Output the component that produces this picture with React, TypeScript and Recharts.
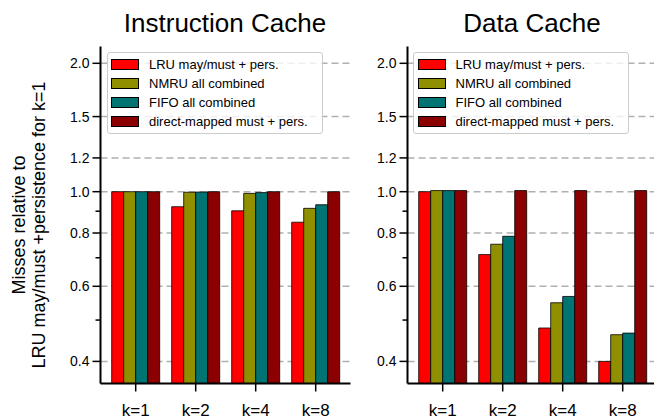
import React from "react";
import { BarChart, Bar, XAxis, YAxis, CartesianGrid, Legend } from "recharts";

const categories = ["k=1", "k=2", "k=4", "k=8"];
const seriesNames = [
  "LRU may/must + pers.",
  "NMRU all combined",
  "FIFO all combined",
  "direct-mapped must + pers.",
];
const seriesKeys = ["lru", "nmru", "fifo", "direct"];
const seriesColors = ["#ff0000", "#8f8f00", "#007373", "#8b0000"];

// Instruction cache, misses relative to LRU k=1
const icacheLru = [1.0, 0.922, 0.902, 0.848];
const icacheNmru = [1.0, 0.997, 0.991, 0.914];
const icacheFifo = [1.0, 0.998, 0.995, 0.932];
const icacheDirect = [1.0, 1.0, 1.0, 1.0];

// Data cache
const dcacheLru = [1.0, 0.712, 0.479, 0.4];
const dcacheNmru = [1.006, 0.753, 0.549, 0.462];
const dcacheFifo = [1.006, 0.786, 0.568, 0.466];
const dcacheDirect = [1.006, 1.006, 1.006, 1.006];

const majorTicks = [0.4, 0.6, 0.8, 1.0, 1.2, 1.5, 2.0];
const minorTicks = [0.5, 0.7, 0.9];
const allTicks = [...majorTicks, ...minorTicks].sort((a, b) => a - b);

const FONT = '"Liberation Sans", Arial, Helvetica, sans-serif';

const buildRows = (cols: number[][]) =>
  categories.map((k, i) => ({
    k,
    lru: cols[0][i],
    nmru: cols[1][i],
    fifo: cols[2][i],
    direct: cols[3][i],
  }));

const icacheData = buildRows([icacheLru, icacheNmru, icacheFifo, icacheDirect]);
const dcacheData = buildRows([dcacheLru, dcacheNmru, dcacheFifo, dcacheDirect]);

const YTick = (props: any) => {
  const { x, y, payload } = props;
  const major = majorTicks.includes(payload.value);
  return (
    <g>
      <line x1={x - (major ? 8 : 5)} x2={x} y1={y} y2={y} stroke="#000" strokeWidth={1.5} />
      {major && (
        <text x={x - 11} y={y} dy="0.36em" textAnchor="end" fontSize={14} fill="#000" fontFamily={FONT}>
          {payload.value.toFixed(1)}
        </text>
      )}
    </g>
  );
};

const XTick = (props: any) => {
  const { x, y, payload } = props;
  return (
    <g>
      <line x1={x} x2={x} y1={y} y2={y + 8} stroke="#000" strokeWidth={1.5} />
      <text x={x} y={y + 32} textAnchor="middle" fontSize={17} fill="#000" fontFamily={FONT}>
        {payload.value}
      </text>
    </g>
  );
};

const LegendBox = (props: any) => {
  const items = [...(props.payload || [])].sort(
    (a: any, b: any) => seriesNames.indexOf(a.value) - seriesNames.indexOf(b.value)
  );
  return (
    <div
      style={{
        boxSizing: "border-box",
        width: 216,
        height: 82,
        border: "1.5px solid #cccccc",
        borderRadius: 3,
        background: "rgba(255,255,255,0.8)",
        padding: "2px 0 0 3.5px",
        fontFamily: FONT,
      }}
    >
      {items.map((entry: any) => (
        <div key={entry.value} style={{ display: "flex", alignItems: "center", height: 19 }}>
          <span
            style={{
              boxSizing: "border-box",
              display: "inline-block",
              width: 28,
              height: 11,
              background: entry.color,
              border: "1px solid #000",
              marginRight: 10,
            }}
          />
          <span style={{ fontSize: 13, color: "#000", lineHeight: "19px" }}>{entry.value}</span>
        </div>
      ))}
    </div>
  );
};

function Panel({ data, left }: { data: any[]; left: number }) {
  return (
    <div style={{ position: "absolute", left, top: 0 }}>
      <BarChart
        width={360}
        height={419}
        data={data}
        margin={{ top: 46.5, right: 9.5, bottom: 0, left: 40.5 }}
        barGap={0}
        barSize={12}
      >
        <CartesianGrid
          vertical={false}
          horizontalValues={majorTicks}
          stroke="#b0b0b0"
          strokeWidth={1.5}
          strokeDasharray="7 4"
        />
        <XAxis
          dataKey="k"
          interval={0}
          height={35.5}
          padding={{ left: 5.2, right: 4.8 }}
          tickSize={0}
          tickMargin={0}
          tickLine={false}
          tick={<XTick />}
          axisLine={{ stroke: "#000", strokeWidth: 2 }}
        />
        <XAxis
          xAxisId="t"
          dataKey="k"
          orientation="top"
          height={0}
          tick={false}
          tickLine={false}
          axisLine={{ stroke: "#000", strokeWidth: 2 }}
        />
        <YAxis
          type="number"
          scale="log"
          domain={[0.355, 2.19]}
          allowDataOverflow
          ticks={allTicks}
          interval={0}
          width={60}
          tickSize={0}
          tickMargin={0}
          tickLine={false}
          tick={<YTick />}
          axisLine={{ stroke: "#000", strokeWidth: 2 }}
        />
        <YAxis
          yAxisId="r"
          orientation="right"
          width={0}
          tick={false}
          tickLine={false}
          axisLine={{ stroke: "#000", strokeWidth: 2 }}
        />
        <Legend
          layout="vertical"
          align="center"
          verticalAlign="middle"
          content={<LegendBox />}
          wrapperStyle={{ top: 52, left: 106.5, width: 216 }}
        />
        {seriesKeys.map((key, i) => (
          <Bar
            key={key}
            dataKey={key}
            name={seriesNames[i]}
            fill={seriesColors[i]}
            stroke="#000"
            strokeWidth={0.8}
            isAnimationActive={false}
          />
        ))}
      </BarChart>
    </div>
  );
}

export default function App() {
  return (
    <div
      style={{
        position: "fixed",
        left: 0,
        top: 0,
        width: 654,
        height: 419,
        overflow: "hidden",
        background: "#fff",
        fontFamily: FONT,
      }}
    >
      <svg width={654} height={419} style={{ position: "absolute", left: 0, top: 0 }}>
        <text x={225} y={31.5} textAnchor="middle" fontSize={26} fontFamily={FONT} fill="#000">
          Instruction Cache
        </text>
        <text x={532} y={31.5} textAnchor="middle" fontSize={26} fontFamily={FONT} fill="#000">
          Data Cache
        </text>
        <text
          transform="translate(25,225) rotate(-90)"
          textAnchor="middle"
          fontSize={18}
          fontFamily={FONT}
          fill="#000"
        >
          Misses relative to
        </text>
        <text
          transform="translate(45,225) rotate(-90)"
          textAnchor="middle"
          fontSize={18}
          fontFamily={FONT}
          fill="#000"
        >
          LRU may/must +persistence for k=1
        </text>
      </svg>
      <Panel data={icacheData} left={0} />
      <Panel data={dcacheData} left={306.5} />
    </div>
  );
}
